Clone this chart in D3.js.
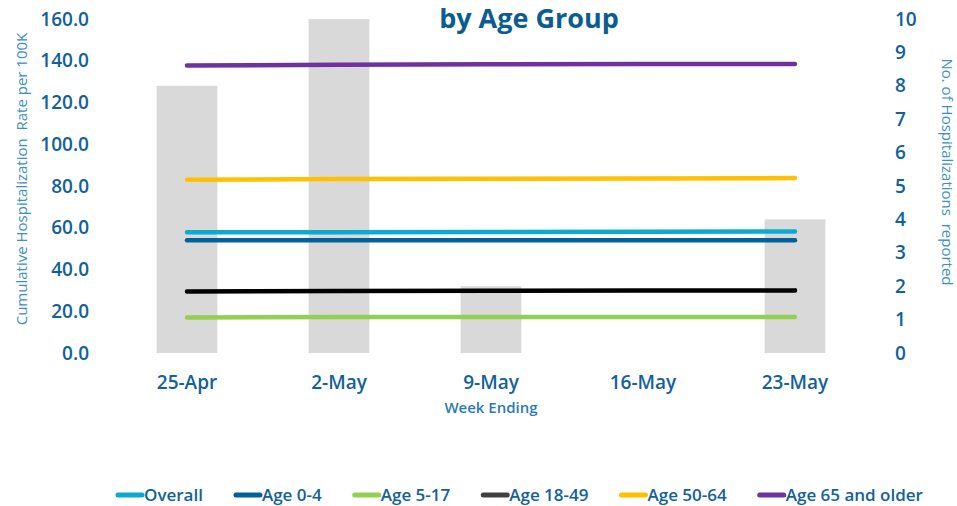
<!DOCTYPE html>
<html>
<head>
<meta charset="utf-8">
<script src="https://cdn.jsdelivr.net/npm/d3@7"></script>
<style>
  body { margin: 0; background: #fff; }
  svg { font-family: "Open Sans", sans-serif; }
</style>
</head>
<body>
<script>
// chart data
const weeks = ['25-Apr', '2-May', '9-May', '16-May', '23-May'];
const hospCounts = [8, 10, 2, 0, 4];
const seriesNames = ['Overall', 'Age 0-4', 'Age 5-17', 'Age 18-49', 'Age 50-64', 'Age 65 and older'];
const overall = [57.8, 57.9, 58.0, 58.1, 58.2];
const age0to4 = [54.0, 54.0, 54.0, 54.0, 54.0];
const age5to17 = [17.0, 17.2, 17.2, 17.2, 17.3];
const age18to49 = [29.5, 29.7, 29.8, 29.9, 30.0];
const age50to64 = [83.0, 83.3, 83.5, 83.6, 83.8];
const age65plus = [137.7, 138.1, 138.3, 138.4, 138.5];
const leftTicks = [0, 20, 40, 60, 80, 100, 120, 140, 160];
const rightTicks = [0, 1, 2, 3, 4, 5, 6, 7, 8, 9, 10];

const seriesValues = [overall, age0to4, age5to17, age18to49, age50to64, age65plus];
const seriesColors = ['#0aaad2', '#03619a', '#92d050', '#000000', '#ffc000', '#7030a0'];
const legendColors = ['#0aaad2', '#03619a', '#92d050', '#404040', '#ffc000', '#7030a0'];

let width = 957;
let height = 506;
let svg = d3.select('body').append('svg')
   .attr('width', width)
   .attr('height', height);

let plotLeft = 111, plotRight = 871, plotTop = 19, plotBottom = 353;
let darkBlue = '#12619b';
let lightBlue = '#3b8fc6';

let x = d3.scaleBand().domain(weeks).range([plotLeft, plotRight]).paddingInner(0.6).paddingOuter(0.3);
let xc = (w) => x(w) + x.bandwidth() / 2;
let yLeft = d3.scaleLinear().domain([0, 160]).range([plotBottom, plotTop]);
let yRight = d3.scaleLinear().domain([0, 10]).range([plotBottom, plotTop]);

// bars (right axis)
svg.append('g').selectAll('rect')
   .data(hospCounts)
   .enter()
   .append('rect')
   .attr('x', (d, i) => x(weeks[i]))
   .attr('y', (d) => yRight(d))
   .attr('width', x.bandwidth())
   .attr('height', (d) => yRight(0) - yRight(d))
   .attr('fill', '#d9d9d9');

// lines (left axis)
let line = d3.line()
   .x((d, i) => xc(weeks[i]))
   .y((d) => yLeft(d));
svg.append('g').selectAll('path')
   .data(seriesValues)
   .enter()
   .append('path')
   .attr('d', (d) => line(d))
   .attr('fill', 'none')
   .attr('stroke', (d, i) => seriesColors[i])
   .attr('stroke-width', 4.5)
   .attr('stroke-linecap', 'round');

// left axis
let leftAxis = svg.append('g')
   .attr('transform', 'translate(' + 89 + ',0)')
   .call(d3.axisLeft(yLeft).tickValues(leftTicks).tickFormat(d3.format('.1f')).tickSize(0).tickPadding(0));
leftAxis.select('.domain').remove();
leftAxis.selectAll('text')
   .attr('fill', darkBlue)
   .attr('font-size', '19px')
   .attr('font-weight', 600)
   .attr('font-family', '"Open Sans", sans-serif');

// right axis
let rightAxis = svg.append('g')
   .attr('transform', 'translate(' + 895 + ',0)')
   .call(d3.axisRight(yRight).tickValues(rightTicks).tickFormat(d3.format('d')).tickSize(0).tickPadding(0));
rightAxis.select('.domain').remove();
rightAxis.selectAll('text')
   .attr('fill', darkBlue)
   .attr('font-size', '19px')
   .attr('font-weight', 600)
   .attr('font-family', '"Open Sans", sans-serif');

// x axis
let bottomAxis = svg.append('g')
   .attr('transform', 'translate(0,' + plotBottom + ')')
   .call(d3.axisBottom(x).tickSize(0).tickPadding(23));
bottomAxis.select('.domain').remove();
bottomAxis.selectAll('text')
   .attr('fill', darkBlue)
   .attr('font-size', '19px')
   .attr('font-weight', 600)
   .attr('font-family', '"Open Sans", sans-serif');

// titles
svg.append('text')
   .attr('x', 529).attr('y', 28)
   .attr('text-anchor', 'middle')
   .attr('font-size', '27px')
   .attr('font-weight', 'bold')
   .attr('fill', '#0b5d91')
   .text('by Age Group');

svg.append('text')
   .attr('x', 491).attr('y', 413)
   .attr('text-anchor', 'middle')
   .attr('font-size', '15px')
   .attr('font-weight', 600)
   .attr('fill', '#2a7ab8')
   .text('Week Ending');

svg.append('text')
   .attr('transform', 'translate(27,' + 179 + ') rotate(-90)')
   .attr('text-anchor', 'middle')
   .attr('font-size', '15px')
   .attr('fill', lightBlue)
   .attr('xml:space', 'preserve')
   .text('Cumulative Hospitalization  Rate per 100K');

svg.append('text')
   .attr('transform', 'translate(942,' + 172 + ') rotate(90)')
   .attr('text-anchor', 'middle')
   .attr('font-size', '15px')
   .attr('fill', lightBlue)
   .attr('xml:space', 'preserve')
   .text('No. of Hospitalizations  reported');

// legend
let legend = svg.append('g').attr('id', 'legend');
let cursor = 116;
seriesNames.forEach((name, i) => {
   let item = legend.append('g');
   item.append('line')
      .attr('x1', cursor + 2).attr('x2', cursor + 26)
      .attr('y1', 495).attr('y2', 495)
      .attr('stroke', legendColors[i])
      .attr('stroke-width', 5)
      .attr('stroke-linecap', 'round');
   let t = item.append('text')
      .attr('x', cursor + 28).attr('y', 501)
      .attr('font-size', '17px')
      .attr('font-weight', 600)
      .attr('fill', darkBlue)
      .text(name);
   cursor += 28 + t.node().getComputedTextLength() + 31;
});
</script>
</body>
</html>
